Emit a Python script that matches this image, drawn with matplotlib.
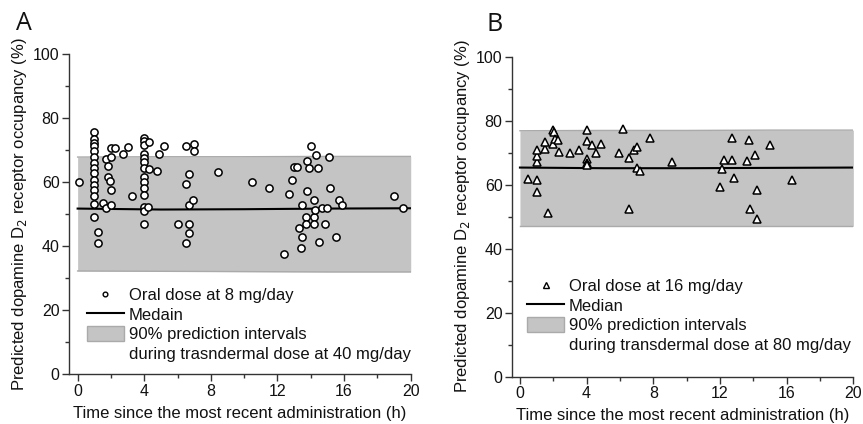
import matplotlib
matplotlib.use("Agg")
import matplotlib.pyplot as plt
from matplotlib.lines import Line2D
from matplotlib.patches import Patch

plt.rcParams['font.family'] = ['Liberation Sans', 'DejaVu Sans']

# panel A: oral 8 mg/day observations (h, % occupancy)
hours_A = [0.1,
           1.0, 1.0, 1.0, 1.0, 1.0, 1.0, 1.0, 1.0, 1.0, 1.0, 1.0, 1.0, 1.0, 1.0, 1.0,
           1.2, 1.2, 1.5, 1.7, 1.7, 1.8, 1.85, 1.95, 2.0, 2.0, 2.0, 2.0, 2.25, 2.75,
           3.05, 3.25,
           4.0, 4.0, 4.0, 4.0, 4.0, 4.0, 4.0, 4.0, 4.0, 4.0, 4.0, 4.0, 4.0, 4.0,
           4.3, 4.3, 4.2, 4.75, 4.9, 5.2, 6.0, 6.5, 6.5, 6.5, 6.7, 6.7, 6.7, 6.7,
           6.95, 7.0, 7.0, 8.45, 10.5,
           11.5, 12.7, 12.4, 12.9, 13.0, 13.2, 13.45, 13.3, 13.5, 13.4, 13.7, 13.7,
           13.8, 13.9, 14.0, 13.8, 14.2, 14.3, 14.45, 14.2, 14.2, 14.25, 14.7, 15.0,
           15.1, 15.15, 14.85, 14.5, 15.5, 15.7, 15.85, 19.0, 19.55]
occ_A = [60.0,
         75.6, 73.5, 72.3, 71.2, 69.6, 67.8, 66.0, 64.4, 62.8, 60.5, 59.0, 57.4, 55.5, 53.0, 49.1,
         44.3, 41.0, 53.4, 67.3, 52.0, 64.9, 61.6, 60.2, 67.8, 57.6, 52.7, 70.5, 70.5, 68.9,
         70.9, 55.6,
         73.9, 72.7, 71.7, 68.8, 67.6, 66.3, 64.5, 61.6, 60.0, 58.1, 55.8, 52.2, 50.9, 46.8,
         72.5, 64.2, 52.2, 63.3, 68.6, 71.4, 46.8, 71.3, 59.5, 41.0, 62.6, 52.7, 46.8, 44.2,
         54.5, 72.0, 69.7, 63.1, 60.0,
         58.1, 56.3, 37.5, 60.7, 64.6, 64.6, 52.7, 45.6, 42.8, 39.5, 49.1, 46.8,
         66.7, 64.5, 71.4, 57.1, 54.3, 68.3, 64.5, 49.1, 46.8, 51.2, 52.0, 52.0,
         67.7, 58.0, 46.8, 41.1, 42.8, 54.3, 52.8, 55.6, 52.0]

# panel B: oral 16 mg/day observations
hours_B = [0.5, 1.05, 1.05, 1.05, 1.05, 1.05, 1.5, 1.5, 1.7, 2.0, 2.05, 2.0, 2.1, 2.3,
           2.35, 3.0, 3.55, 4.0, 4.0, 4.0, 4.0, 4.0, 4.35, 4.55, 4.85, 5.95, 6.2,
           6.55, 6.55, 6.85, 7.0, 7.0, 7.2, 7.8, 9.15,
           12.75, 13.75, 15.0, 14.1, 13.65, 12.75, 12.25, 12.1, 12.85, 12.0, 14.2,
           16.35, 13.8, 14.2]
occ_B = [61.7, 61.3, 57.7, 67.1, 68.9, 70.8, 71.1, 73.4, 51.2, 77.0, 76.3, 72.8, 74.2, 73.9,
         70.2, 69.7, 70.8, 77.0, 73.6, 68.1, 66.6, 66.0, 72.3, 69.7, 72.8, 69.8, 77.3,
         68.3, 52.2, 70.8, 71.8, 65.3, 64.3, 74.6, 67.1,
         74.6, 73.9, 72.3, 69.2, 67.4, 67.8, 67.8, 64.8, 62.1, 59.3, 58.2,
         61.3, 52.2, 49.3]

# simulated transdermal median and 90% PI
sim_t = [0, 5, 10, 15, 20]
median_A = [51.7, 51.4, 51.5, 51.7, 51.8]
lower_A = [32.2, 32.1, 32.0, 31.9, 31.9]
upper_A = [67.8, 67.9, 67.9, 68.0, 68.0]
median_B = [65.3, 65.1, 65.1, 65.2, 65.3]
lower_B = [46.9, 46.9, 46.9, 46.9, 46.9]
upper_B = [76.8, 76.9, 76.9, 77.0, 77.0]

x_ticks = [0, 4, 8, 12, 16, 20]
y_ticks = [0, 20, 40, 60, 80, 100]

fig = plt.figure(figsize=(8.63, 4.24), dpi=100)
axA = fig.add_axes([0.0803, 0.1179, 0.3956, 0.7547])
axB = fig.add_axes([0.5936, 0.1120, 0.3952, 0.7547])

band_col = '#c4c4c4'
edge_col = '#aaaaaa'

panels = [
    (axA, hours_A, occ_A, median_A, lower_A, upper_A, 'o', 5.2, -0.5,
     'Oral dose at 8 mg/day', 'Medain',
     'during trasndermal dose at 40 mg/day', 'A', (0.052, 0.272), (-0.155, 1.055)),
    (axB, hours_B, occ_B, median_B, lower_B, upper_B, '^', 6.0, -0.46,
     'Oral dose at 16 mg/day', 'Median',
     'during transdermal dose at 80 mg/day', 'B', (0.044, 0.307), (-0.075, 1.06)),
]

for ax, hx, oy, med, lo, up, mk, ms, xmin, lab1, lab2, lab4, tag, lpos, tpos in panels:
    ax.fill_between(sim_t, lo, up, color=band_col, lw=0, zorder=1)
    ax.plot(sim_t, lo, color=edge_col, lw=1.0, zorder=1)
    ax.plot(sim_t, up, color=edge_col, lw=1.0, zorder=1)
    ax.plot(sim_t, med, color='black', lw=1.5, zorder=2)
    ax.plot(hx, oy, linestyle='none', marker=mk, ms=ms, mfc='white',
            mec='black', mew=1.1, zorder=3)

    ax.set_xlim(xmin, 20)
    ax.set_ylim(0, 100)
    ax.set_xticks(x_ticks)
    ax.set_xticks(range(2, 20, 4), minor=True)
    ax.set_yticks(y_ticks)
    ax.set_yticks(range(10, 100, 20), minor=True)
    ax.spines['top'].set_visible(False)
    ax.spines['right'].set_visible(False)
    for s in ['left', 'bottom']:
        ax.spines[s].set_color('#333333')
        ax.spines[s].set_linewidth(1.0)
    ax.tick_params(which='major', length=5, width=1.0, color='#333333',
                   labelsize=11.5, labelcolor='#111111', pad=2)
    ax.tick_params(which='minor', length=3, width=1.0, color='#333333')
    ax.set_xlabel('Time since the most recent administration (h)', fontsize=12,
                  color='#111111', labelpad=5)
    ax.set_ylabel('Predicted dopamine D$_2$ receptor occupancy (%)', fontsize=12,
                  color='#111111', labelpad=3)

    handles = [
        Line2D([], [], linestyle='none', marker=mk, ms=ms * 0.65, mfc='white',
               mec='black', mew=1.0),
        Line2D([], [], color='black', lw=1.5),
        Patch(facecolor=band_col, edgecolor=edge_col, lw=1.0),
        Patch(visible=False),
    ]
    labels = [lab1, lab2, '90% prediction intervals', lab4]
    ax.legend(handles, labels, loc='upper left', bbox_to_anchor=lpos,
              frameon=False, fontsize=12, borderpad=0, borderaxespad=0,
              handlelength=2.2, handleheight=1.0, handletextpad=0.3,
              labelspacing=0.2, labelcolor='#111111')

    ax.text(tpos[0], tpos[1], tag, transform=ax.transAxes, fontsize=18,
            family=['Open Sans', 'DejaVu Sans'], color='#111111',
            va='bottom', ha='left')

fig.savefig('out.png', dpi=100)
